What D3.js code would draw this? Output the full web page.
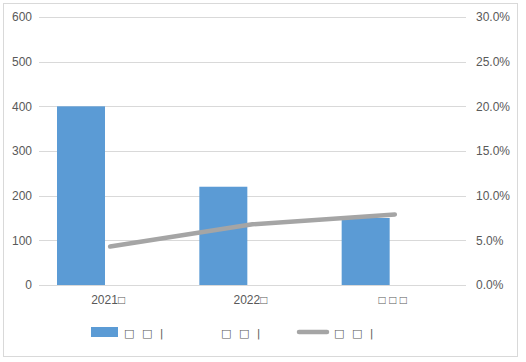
<!DOCTYPE html>
<meta charset="utf-8">
<style>
body { margin: 0; background: #fff; }
text { font-family: "Liberation Sans", "DejaVu Sans", sans-serif; fill: #595959; }
.grid line { stroke: #d9d9d9; }
.tofu { font-family: "DejaVu Sans", sans-serif; }
</style>
<body>
<script src="https://d3js.org/d3.v7.min.js"></script>
<script>

// chart data
var categories = ["2021\u25A1", "2022\u25A1", "\u25A1 \u25A1 \u25A1"];
var barValues = [400, 220, 150];
var rateValues = [0.043, 0.068, 0.079];
var leftTicks = [0, 100, 200, 300, 400, 500, 600];
var rightTicks = [0, 0.05, 0.10, 0.15, 0.20, 0.25, 0.30];
var legendLabels = ["\u25A1 \u25A1 |", "\u25A1 \u25A1 |", "\u25A1 \u25A1 |"];

var W = 526, H = 362;
var plot = {left: 39, right: 466, top: 17, bottom: 285};

var svg = d3.select("body").append("svg")
    .attr("width", W)
    .attr("height", H);

// outer frame
svg.append("rect")
    .attr("x", 3.5).attr("y", 3.5)
    .attr("width", 514).attr("height", 353)
    .attr("fill", "#fff")
    .attr("stroke", "#d9d9d9");

var x = d3.scaleBand().domain(categories).range([plot.left, plot.right]);
var y = d3.scaleLinear().domain([0, 600]).range([plot.bottom, plot.top]);
var y2 = d3.scaleLinear().domain([0, 0.3]).range([plot.bottom, plot.top]);

// gridlines
svg.append("g").attr("class", "grid")
  .selectAll("line").data(leftTicks).enter().append("line")
    .attr("x1", plot.left).attr("x2", plot.right)
    .attr("y1", function(d) { return Math.round(y(d)) + 0.5; })
    .attr("y2", function(d) { return Math.round(y(d)) + 0.5; });

// left axis
var yAxis = svg.append("g")
    .attr("transform", "translate(" + plot.left + ",0)")
    .call(d3.axisLeft(y).tickValues(leftTicks).tickSize(0).tickPadding(7));
yAxis.select(".domain").remove();
yAxis.selectAll("text").style("font-size", "12px").attr("fill", "#595959");

// right axis
var y2Axis = svg.append("g")
    .attr("transform", "translate(" + plot.right + ",0)")
    .call(d3.axisRight(y2).tickValues(rightTicks).tickSize(0).tickPadding(10)
      .tickFormat(d3.format(".1%")));
y2Axis.select(".domain").remove();
y2Axis.selectAll("text").style("font-size", "12px").attr("fill", "#595959");

// bars (first bar of each pair; second series is empty)
var barW = 48;
svg.append("g").selectAll("rect").data(barValues).enter().append("rect")
    .attr("x", function(d, i) { return x(categories[i]) + 18; })
    .attr("y", function(d) { return y(d); })
    .attr("width", barW)
    .attr("height", function(d) { return y(0) - y(d); })
    .attr("fill", "#5b9bd5");

// x axis labels
svg.append("g").selectAll("text").data(categories).enter().append("text")
    .attr("x", function(d) { return x(d) + x.bandwidth() / 2 - 2; })
    .attr("y", 304)
    .attr("text-anchor", "middle")
    .style("font-size", "12px")
    .text(function(d) { return d; });

// rate line
var line = d3.line()
    .x(function(d, i) { return x(categories[i]) + x.bandwidth() / 2; })
    .y(function(d) { return y2(d); });

svg.append("path")
    .datum(rateValues)
    .attr("d", line)
    .attr("fill", "none")
    .attr("stroke", "#a5a5a5")
    .attr("stroke-width", 4.5)
    .attr("stroke-linecap", "round")
    .attr("stroke-linejoin", "round");

// legend
var leg = svg.append("g");
leg.append("rect")
    .attr("x", 91).attr("y", 327).attr("width", 27).attr("height", 10)
    .attr("fill", "#5b9bd5");
leg.append("line")
    .attr("x1", 299).attr("x2", 327).attr("y1", 332).attr("y2", 332)
    .attr("stroke", "#a5a5a5").attr("stroke-width", 4.5).attr("stroke-linecap", "round");
var legX = [124, 221, 334];
leg.selectAll("text").data(legendLabels).enter().append("text")
    .attr("class", "tofu")
    .attr("x", function(d, i) { return legX[i]; })
    .attr("y", 337)
    .style("font-size", "11px")
    .style("word-spacing", "4px")
    .text(function(d) { return d; });

</script>
</body>
